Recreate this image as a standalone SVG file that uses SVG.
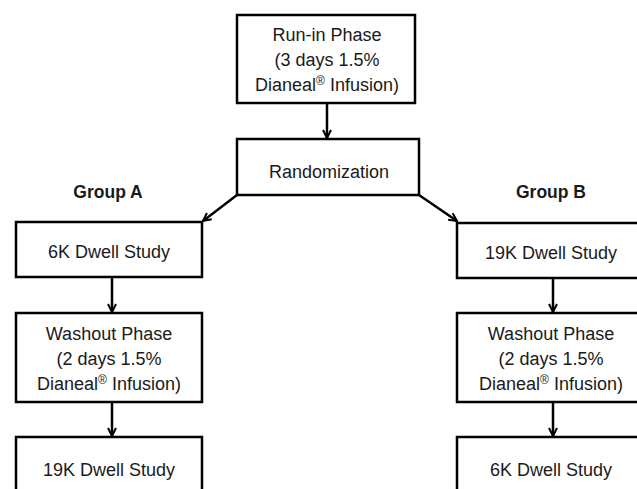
<svg xmlns="http://www.w3.org/2000/svg" width="637" height="489" viewBox="0 0 637 489">
<style>
.box{fill:#fff;stroke:#000;stroke-width:2.5}
.t{font-family:"Liberation Sans",Arial,sans-serif;font-size:18px;fill:#1a1a1a;text-anchor:middle}
.h{font-family:"Liberation Sans",Arial,sans-serif;font-size:17.5px;font-weight:bold;fill:#1a1a1a;text-anchor:middle}
.c{stroke:#000;stroke-width:2.5;fill:none;marker-end:url(#ah)}
.sup{font-size:12px}
</style>
<defs>
<marker id="ah" viewBox="0 0 10 10" refX="9" refY="5" markerWidth="4" markerHeight="4" orient="auto" markerUnits="strokeWidth">
<path d="M1,1 L9,5 L1,9" fill="none" stroke="#000" stroke-width="2"/>
</marker>
</defs>
<rect width="637" height="489" fill="#fff"/>
<g id="connectors">
<line class="c" x1="327" y1="103" x2="327" y2="138"/>
<line class="c" x1="237" y1="195" x2="203" y2="221"/>
<line class="c" x1="419" y1="195" x2="457" y2="221"/>
<line class="c" x1="112" y1="277" x2="112" y2="312"/>
<line class="c" x1="112" y1="402" x2="112" y2="436"/>
<line class="c" x1="553" y1="278" x2="553" y2="312"/>
<line class="c" x1="553" y1="402" x2="553" y2="436"/>
</g>
<g id="runin">
<rect class="box" x="237" y="15" width="178" height="88"/>
<text class="t" x="327" y="41">Run-in Phase</text>
<text class="t" x="327" y="66">(3 days 1.5%</text>
<text class="t" x="327" y="91">Dianeal<tspan class="sup" dy="-6">®</tspan><tspan dy="6"> Infusion)</tspan></text>
</g>
<g id="randomization">
<rect class="box" x="237" y="139" width="182" height="56"/>
<text class="t" x="329" y="178">Randomization</text>
</g>
<g id="groupA"><text class="h" x="108" y="198">Group A</text></g>
<g id="groupB"><text class="h" x="551" y="198">Group B</text></g>
<g id="a1">
<rect class="box" x="16" y="222" width="186" height="55"/>
<text class="t" x="109" y="258">6K Dwell Study</text>
</g>
<g id="a2">
<rect class="box" x="16" y="313" width="186" height="89"/>
<text class="t" x="109" y="340">Washout Phase</text>
<text class="t" x="109" y="365">(2 days 1.5%</text>
<text class="t" x="109" y="390">Dianeal<tspan class="sup" dy="-6">®</tspan><tspan dy="6"> Infusion)</tspan></text>
</g>
<g id="a3">
<rect class="box" x="16" y="437" width="186" height="60"/>
<text class="t" x="109" y="476">19K Dwell Study</text>
</g>
<g id="b1">
<rect class="box" x="457" y="223" width="188" height="55"/>
<text class="t" x="551" y="259">19K Dwell Study</text>
</g>
<g id="b2">
<rect class="box" x="457" y="313" width="188" height="89"/>
<text class="t" x="551" y="340">Washout Phase</text>
<text class="t" x="551" y="365">(2 days 1.5%</text>
<text class="t" x="551" y="390">Dianeal<tspan class="sup" dy="-6">®</tspan><tspan dy="6"> Infusion)</tspan></text>
</g>
<g id="b3">
<rect class="box" x="457" y="437" width="188" height="60"/>
<text class="t" x="551" y="476">6K Dwell Study</text>
</g>
</svg>
